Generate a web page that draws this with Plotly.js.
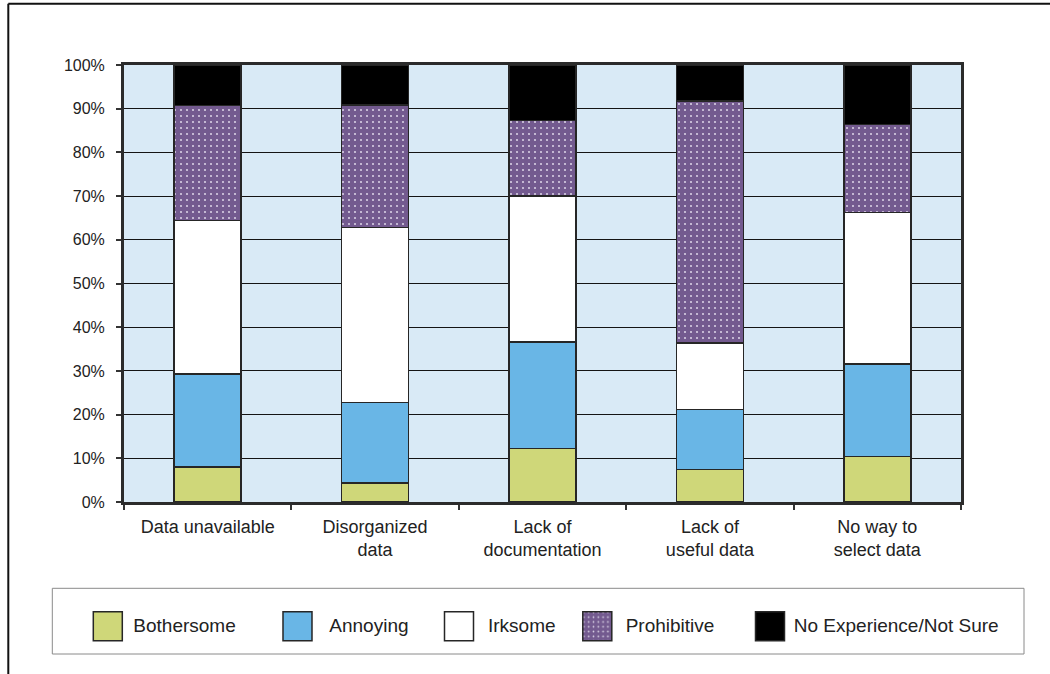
<!DOCTYPE html>
<html>
<head>
<meta charset="utf-8">
<script src="https://cdn.plot.ly/plotly-3.0.1.min.js"></script>
<style>
  html, body { margin: 0; padding: 0; background: #ffffff; }
  #chart { width: 1050px; height: 674px; }
</style>
</head>
<body>
<div id="chart"></div>
<script>
// ---- data (percent of respondents) ----
const categories = [
  "Data unavailable",
  "Disorganized<br>data",
  "Lack of<br>documentation",
  "Lack of<br>useful data",
  "No way to<br>select data"
];
const seriesNames = ["Bothersome", "Annoying", "Irksome", "Prohibitive", "No Experience/Not Sure"];
const bothersome   = [8.0, 4.3, 12.3, 7.4, 10.4];
const annoying     = [21.3, 18.5, 24.3, 13.8, 21.2];
const irksome      = [35.1, 40.0, 33.4, 15.2, 34.7];
const prohibitive  = [26.3, 28.1, 17.3, 55.4, 20.1];
const noExperience = [9.3, 9.1, 12.7, 8.2, 13.6];
const yTickValues  = [0, 10, 20, 30, 40, 50, 60, 70, 80, 90, 100];

// ---- styling ----
const FONT = "Liberation Sans, Arial, Helvetica, sans-serif";
const colors = ["#cfd779", "#69b6e6", "#ffffff", "#735a8f", "#000000"];
const outline = {color: "#262626", width: 1.5};

const W = 1050, H = 674;
const M = {l: 124, r: 89, t: 65, b: 172};
const PW = W - M.l - M.r, PH = H - M.t - M.b;
const px2x = px => (px - M.l) / PW;
const px2y = py => (H - M.b - py) / PH;

const allValues = [bothersome, annoying, irksome, prohibitive, noExperience];
const legendIds = ["legend", "legend2", "legend3", "legend4", "legend5"];
// legend layout (px): text start and symbol centre of each entry
const legendTextX   = [133.3, 329.3, 488.0, 625.7, 793.8];
const legendSymbolX = [107.8, 297.5, 459.0, 597.3, 770.0];

const traces = allValues.map((vals, i) => {
  const t = {
    type: "bar",
    name: seriesNames[i],
    x: categories,
    y: vals,
    width: 0.4,
    legend: legendIds[i],
    marker: {color: colors[i], line: outline},
    hoverinfo: "name+y"
  };
  if (i === 3) {
    t.marker.pattern = {shape: ".", fillmode: "replace", bgcolor: colors[3],
                        fgcolor: "#d7cfe3", size: 6, solidity: 0.1};
  }
  return t;
});

const layout = {
  width: W, height: H,
  margin: M,
  barmode: "stack",
  paper_bgcolor: "#ffffff",
  plot_bgcolor: "#d9eaf6",
  font: {family: FONT, color: "#222222"},
  xaxis: {
    type: "category",
    tickson: "boundaries",
    ticks: "outside", ticklen: 5, tickwidth: 1.5, tickcolor: "#333333",
    showline: true, linecolor: "#2b2b2b", linewidth: 3, mirror: true,
    showgrid: false,
    tickfont: {size: 18, family: FONT, color: "#222222"},
    ticklabelstandoff: 6
  },
  yaxis: {
    range: [0, 100],
    tickvals: yTickValues,
    ticktext: yTickValues.map(v => v + "%"),
    ticks: "outside", ticklen: 5, tickwidth: 1.5, tickcolor: "#333333",
    showline: true, linecolor: "#2b2b2b", linewidth: 3, mirror: true,
    showgrid: true, gridcolor: "#141414", gridwidth: 1,
    zeroline: false,
    tickfont: {size: 16, family: FONT, color: "#222222"},
    ticklabelstandoff: 8
  },
  shapes: [
    // legend frame
    {type: "rect", xref: "paper", yref: "paper",
     x0: px2x(52.3), x1: px2x(1024), y0: px2y(654), y1: px2y(588.3),
     line: {color: "#8a8a8a", width: 1}, fillcolor: "rgba(0,0,0,0)", layer: "above"},
    // outer page frame: top and left edges
    {type: "line", xref: "paper", yref: "paper",
     x0: px2x(8.3), x1: px2x(1060), y0: px2y(3.7), y1: px2y(3.7),
     line: {color: "#111111", width: 2}},
    {type: "line", xref: "paper", yref: "paper",
     x0: px2x(8.3), x1: px2x(8.3), y0: px2y(3.7), y1: px2y(690),
     line: {color: "#111111", width: 2}}
  ],
  showlegend: true
};

legendIds.forEach((id, i) => {
  layout[id] = {
    orientation: "h",
    x: px2x(legendTextX[i] - 50), xanchor: "left",
    y: px2y(624.5), yanchor: "middle",
    bgcolor: "rgba(0,0,0,0)", borderwidth: 0,
    itemwidth: 40,
    font: {size: 19, family: FONT, color: "#222222"},
    itemclick: false, itemdoubleclick: false
  };
});

Plotly.newPlot("chart", traces, layout, {displayModeBar: false}).then(gd => {
  // enlarge legend swatches to the reference's big squares
  legendIds.forEach((id, i) => {
    const grp = gd.querySelector("g." + id);
    if (!grp) return;
    const sb = grp.querySelector(".scrollbox");
    if (sb) sb.removeAttribute("clip-path");
    const dx = legendSymbolX[i] - (legendTextX[i] - 25);
    const h = 14.5, c = dx;
    grp.querySelectorAll(".legendpoints path").forEach(p => {
      p.setAttribute("d", `M${c + h},${h + 2}H${c - h}V${-h + 2}H${c + h}Z`);
      p.style.strokeWidth = "1.5px";
      p.style.stroke = "#262626";
    });
  });
});
</script>
</body>
</html>
